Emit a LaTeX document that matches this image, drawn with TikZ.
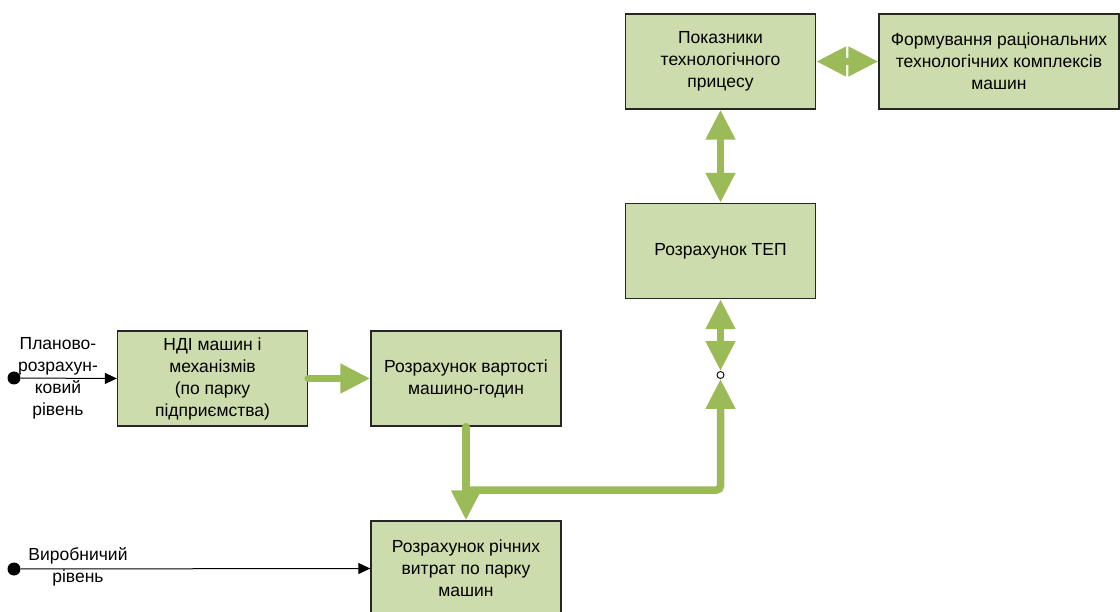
\documentclass[tikz,border=0pt]{standalone}
\usepackage{fontspec}
\setmainfont{Liberation Sans}
\usetikzlibrary{arrows.meta}
\definecolor{boxfill}{HTML}{CDDCAC}
\definecolor{agreen}{HTML}{9BBB59}
\tikzset{
  box/.style={draw=black!85, line width=1.3pt, fill=boxfill, minimum width=190pt, minimum height=95pt, inner sep=0pt, align=center, font=\fontsize{17.5}{22}\selectfont},
  garrow/.style={draw=agreen, line width=7.5pt, -{Triangle[length=30pt,width=28pt]}},
  gdouble/.style={draw=agreen, line width=7.5pt, {Triangle[length=30pt,width=28pt]}-{Triangle[length=30pt,width=28pt]}},
  lbl/.style={align=center, font=\fontsize{17.5}{22}\selectfont, inner sep=0pt},
  dotstart/.style={circle, fill=black, minimum size=13pt, inner sep=0pt},
  thin/.style={draw=black, line width=1pt, -{Triangle[length=12pt,width=11pt]}}
}
\begin{document}
\begin{tikzpicture}[x=1pt,y=-1pt]
\useasboundingbox (0,0) rectangle (1120,612);
% boxes
\node[box] (A) at (720.5,61.5) {Показники\\технологічного\\прицесу};
\node[box, minimum width=240pt] (B) at (999,61.5) {Формування раціональних\\технологічних комплексів\\машин};
\node[box] (C) at (720.5,251) {Розрахунок ТЕП};
\node[box] (D) at (212.5,378.5) {НДІ машин і\\механізмів\\(по парку\\підприємства)};
\node[box] (E) at (466,378.5) {Розрахунок вартості\\машино-годин};
\node[box] (F) at (466,568.5) {Розрахунок річних\\витрат по парку\\машин};
% junction
\node[circle, draw=black, fill=white, line width=0.9pt, minimum size=7pt, inner sep=0pt] (J) at (720.5,375) {};
\coordinate (bend) at (466,490);
% green connectors
\draw[gdouble] (A.east) -- (B.west);
\draw[gdouble] (A.south) -- (C.north);
\draw[gdouble] (C.south) -- (J.north);
\draw[garrow, line cap=round] (D.east) -- (E.west);
\draw[garrow, line cap=round] (E.south) -- (F.north);
\draw[garrow, rounded corners=4pt] (bend) -| (J.south);
% left inputs
\node[dotstart] (s1) at (14,378) {};
\node[dotstart] (s2) at (14,569) {};
\draw[thin] (s1) -- (D.west);
\draw[thin] (s2) -- (F.west);
\node[lbl] (l1) at (58,378) {Планово-\\розрахун-\\ковий\\рівень};
\node[lbl] (l2) at (78,567) {Виробничий\\рівень};
\end{tikzpicture}
\end{document}
